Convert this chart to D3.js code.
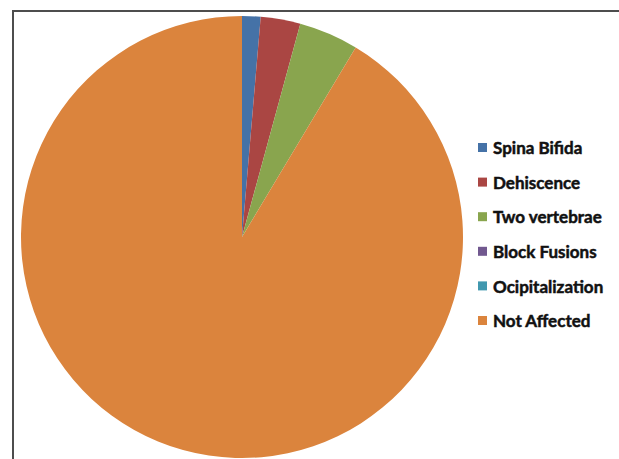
<!DOCTYPE html>
<html>
<head>
<meta charset="utf-8">
<script src="https://cdn.jsdelivr.net/npm/d3@7"></script>
<style>
  html, body { margin: 0; padding: 0; background: #fff; }
  svg { display: block; }
</style>
</head>
<body>
<svg id="chart" width="619" height="459"></svg>
<script>
// Distribution of vertebral findings (percent of specimens)
const categories = ["Spina Bifida", "Dehiscence", "Two vertebrae", "Block Fusions", "Ocipitalization", "Not Affected"];
const values = [1.35, 2.9, 4.35, 0, 0, 91.4];
const colors = ["#4572A7", "#AA4643", "#89A54E", "#71588F", "#4198AF", "#DB843D"];

const svg = d3.select("#chart");
const W = 619, H = 459;

// chart frame (left and top edges visible)
svg.append("path")
  .attr("d", `M13,${H + 2} L13,11 L${W + 2},11`)
  .attr("fill", "none")
  .attr("stroke", "#4d4d4d")
  .attr("stroke-width", 2);

const data = categories.map((c, i) => ({ name: c, value: values[i] }));
const color = d3.scaleOrdinal().domain(categories).range(colors);

const cx = 242, cy = 237, r = 221;
const pie = d3.pie().value(d => d.value).sort(null);
const arc = d3.arc().innerRadius(0).outerRadius(r);

svg.append("g")
  .attr("transform", `translate(${cx},${cy})`)
  .selectAll("path")
  .data(pie(data))
  .join("path")
  .attr("d", arc)
  .attr("fill", d => color(d.data.name));

// legend
const legendY = d3.scalePoint().domain(categories).range([148, 321]);
const lg = svg.append("g")
  .selectAll("g")
  .data(categories)
  .join("g")
  .attr("transform", d => `translate(478,${legendY(d)})`);

lg.append("rect")
  .attr("x", 0).attr("y", -5)
  .attr("width", 9).attr("height", 9)
  .attr("fill", d => color(d));

lg.append("text")
  .attr("x", 15).attr("y", 0)
  .attr("dy", "0.36em")
  .attr("font-family", "Lato, 'Open Sans', sans-serif")
  .attr("font-weight", "bold")
  .attr("font-size", 17)
  .attr("fill", "#111")
  .attr("stroke", "#111")
  .attr("stroke-width", 0.5)
  .text(d => d);
</script>
</body>
</html>
